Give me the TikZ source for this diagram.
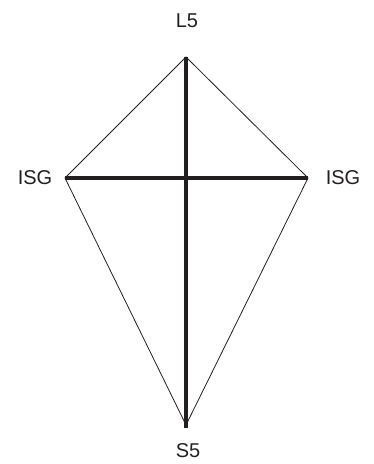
\documentclass[tikz,border=0pt]{standalone}
\usepackage{fontspec}
\setmainfont{Liberation Sans}
\usetikzlibrary{positioning}
\definecolor{ink}{HTML}{231F20}

\begin{document}
\begin{tikzpicture}[x=1pt,y=-1pt,
    edge/.style={draw=ink, line width=0.8pt},
    axis/.style={draw=ink, line width=4.5pt},
    lbl/.style={text=ink, inner sep=0pt, font=\fontsize{20}{24}\selectfont}]
  \useasboundingbox (0,0) rectangle (373,464);
  \coordinate (top) at (186,57);
  \coordinate (left) at (65,178);
  \coordinate (right) at (308,178);
  \coordinate (bot) at (186,425);
  \coordinate (botend) at (186,428);
  \node[lbl] (l5) at (187,21) {L5};
  \node[lbl] (isgl) at (35,178) {ISG};
  \node[lbl] (isgr) at (343,178) {ISG};
  \node[lbl] (s5) at (188,451) {S5};
  \draw[edge] (top) -- (left) -- (bot) -- (right) -- cycle;
  \draw[axis] (top) -- (botend);
  \draw[axis] (left) -- (right);
\end{tikzpicture}
\end{document}
